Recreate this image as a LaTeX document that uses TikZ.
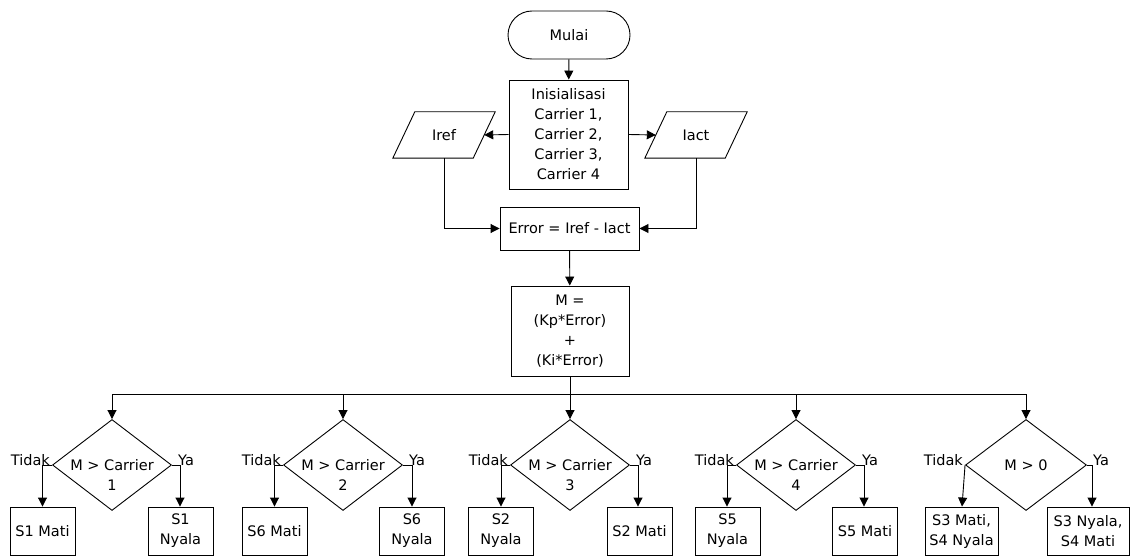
\documentclass[tikz,border=0pt]{standalone}
\usepackage{fontspec}
\setmainfont{DejaVu Sans}
\usetikzlibrary{shapes.geometric,arrows.meta}
\begin{document}
\begin{tikzpicture}[x=1pt,y=-1pt,
  font=\fontsize{14.5}{20}\selectfont,
  every node/.style={inner sep=0pt, align=center},
  line/.style={draw, line width=0.9pt},
  arr/.style={line, -{Triangle[length=9pt,width=9pt]}},
  procbox/.style={draw, line width=0.9pt, rectangle},
  iobox/.style={rectangle, minimum width=80pt, minimum height=46pt},
  decbox/.style={draw, line width=0.9pt, diamond, minimum width=119pt, minimum height=91pt},
  outbox/.style={procbox, minimum width=65pt, minimum height=48pt}
]
\useasboundingbox (0,0) rectangle (1130,556);

\node[draw, line width=0.9pt, rounded corners=24pt, minimum width=122pt, minimum height=48pt] (mulai) at (569,35) {Mulai};
\node[procbox, minimum width=119pt, minimum height=109pt] (init) at (568.5,134.5) {Inisialisasi\\Carrier 1,\\Carrier 2,\\Carrier 3,\\Carrier 4};
\node[iobox] (iref) at (444,135) {Iref};
\node[iobox] (iact) at (696,135) {Iact};
\foreach \p in {iref,iact}
  \draw[line width=0.9pt] ([xshift=-11pt]\p.south west) -- ([xshift=11pt]\p.north west)
     -- ([xshift=11pt]\p.north east) -- ([xshift=-11pt]\p.south east) -- cycle;
\node[procbox, minimum width=139pt, minimum height=43pt] (err) at (569.5,228.5) {Error = Iref - Iact};
\node[procbox, minimum width=118pt, minimum height=90pt] (mbox) at (570,331) {M =\\(Kp*Error)\\+\\(Ki*Error)};
\coordinate (bus) at (570,394);

% decisions
\node[decbox] (d1) at (112,465) {};
\node[decbox] (d2) at (343,465) {};
\node[decbox] (d3) at (570,465) {};
\node[decbox] (d4) at (796,465) {};
\node[decbox, minimum width=121pt] (d5) at (1026,465) {};
\node at (112,475) {M > Carrier\\1};
\node at (343,475) {M > Carrier\\2};
\node at (570,475) {M > Carrier\\3};
\node at (796,475) {M > Carrier\\4};
\node at (1026,465) {M > 0};

% outputs
\node[outbox] (o1) at (42.5,531) {S1 Mati};
\node[outbox] (o2) at (180.5,531) {S1\\Nyala};
\node[outbox] (o3) at (274.5,531) {S6 Mati};
\node[outbox] (o4) at (412,531) {S6\\Nyala};
\node[outbox] (o5) at (501,531) {S2\\Nyala};
\node[outbox] (o6) at (639.5,531) {S2 Mati};
\node[outbox] (o7) at (727.5,531) {S5\\Nyala};
\node[outbox] (o8) at (865,531) {S5 Mati};
\node[outbox, minimum width=73pt] (o9) at (961.5,531) {S3 Mati,\\S4 Nyala};
\node[outbox, minimum width=82pt] (o10) at (1088,531) {S3 Nyala,\\S4 Mati};

% top connectors
\draw[arr] (mulai) -- (init);
\draw[arr] (init.west) -- (iref.east);
\draw[arr] (init.east) -- (iact.west);
\draw[arr] (iref.south) |- (err.west);
\draw[arr] (iact.south) |- (err.east);
\draw[arr] (err) -- (mbox);
\draw[line] (mbox.south) -- (bus);
\draw[line] (d1.north |- bus) -- (d5.north |- bus);
\foreach \d in {d1,d2,d3,d4,d5} \draw[arr] (\d.north |- bus) -- (\d.north);

% branches
\draw[arr] (d1.west) -| (o1.north);
\draw[arr] (d1.east) -| ([xshift=-0.5pt]o2.north);
\draw[arr] (d2.west) -| (o3.north);
\draw[arr] (d2.east) -| (o4.north);
\draw[arr] (d3.west) -| (o5.north);
\draw[arr] (d3.east) -| ([xshift=-1.5pt]o6.north);
\draw[arr] (d4.west) -| ([xshift=-0.5pt]o7.north);
\draw[arr] (d4.east) -| ([xshift=-1pt]o8.north);
\draw[arr] (d5.west) -- ([xshift=0.5pt]o9.north);
\draw[arr] (d5.east) -| ([xshift=4pt]o10.north);

% labels
\foreach \d in {d1,d2,d3,d4,d5} {
  \node[anchor=south east] at ([xshift=-2pt,yshift=-1pt]\d.west) {Tidak};
  \node[anchor=south west] at ([xshift=6pt,yshift=-1pt]\d.east) {Ya};
}
\end{tikzpicture}
\end{document}
